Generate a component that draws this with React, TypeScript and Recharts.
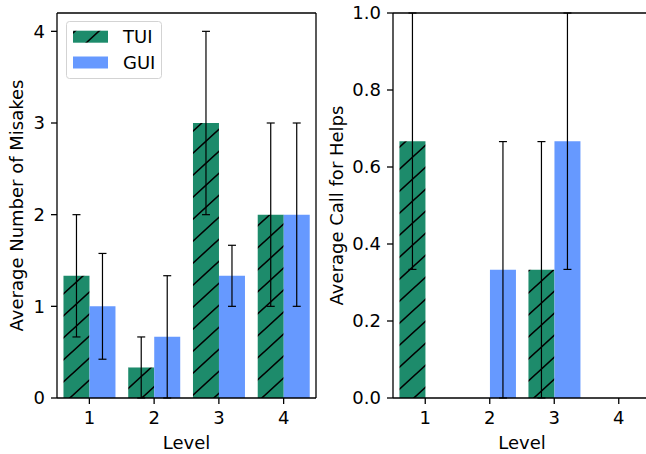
import React from "react";
import { BarChart, Bar, XAxis, YAxis, ErrorBar, ReferenceLine } from "recharts";

const LEVELS = ["1", "2", "3", "4"];

// average mistakes per level
const MISTAKES_TUI = [1.333, 0.333, 3, 2];
const MISTAKES_TUI_ERR = [0.667, 0.333, 1, 1];
const MISTAKES_GUI = [1, 0.667, 1.333, 2];
const MISTAKES_GUI_ERR = [0.577, 0.667, 0.333, 1];

// average call for helps per level
const HELPS_TUI = [0.667, 0, 0.333, 0];
const HELPS_TUI_ERR = [0.333, 0, 0.333, 0];
const HELPS_GUI = [0, 0.333, 0.667, 0];
const HELPS_GUI_ERR = [0, 0.333, 0.333, 0];

const MISTAKE_TICKS = [0, 1, 2, 3, 4];
const HELP_TICKS = [0, 0.2, 0.4, 0.6, 0.8, 1.0];

const SERIES = [
  { key: "tui", name: "TUI", color: "#1d8b6b", hatch: true },
  { key: "gui", name: "GUI", color: "#6699ff", hatch: false },
];

const FONT = "'DejaVu Sans', sans-serif";
const FS = 18;
const INK = "#000";

const mistakesData = LEVELS.map((level, i) => ({
  level,
  tui: MISTAKES_TUI[i],
  tuiErr: MISTAKES_TUI_ERR[i],
  gui: MISTAKES_GUI[i],
  guiErr: MISTAKES_GUI_ERR[i],
}));

const helpsData = LEVELS.map((level, i) => ({
  level,
  tui: HELPS_TUI[i],
  tuiErr: HELPS_TUI_ERR[i],
  gui: HELPS_GUI[i],
  guiErr: HELPS_GUI_ERR[i],
}));

function HatchDef({ id }: { id: string }) {
  return (
    <pattern id={id} patternUnits="userSpaceOnUse" width={24} height={22}>
      <rect width={24} height={22} fill={SERIES[0].color} />
      <path d="M0,22 L24,0 M-6,5.5 L6,-5.5 M18,27.5 L30,16.5" stroke="#000" strokeWidth={1.6} />
    </pattern>
  );
}

const tickStyle = { fontSize: FS, fill: INK, fontFamily: FONT };

function yLabel(text: string) {
  return (props: any) => {
    const vb = props.viewBox || {};
    const x = vb.x + 16;
    const y = vb.y + vb.height / 2;
    return (
      <text x={x} y={y} transform={`rotate(-90 ${x} ${y})`} textAnchor="middle" dominantBaseline="central" fontSize={FS} fontFamily={FONT} fill={INK}>
        {text}
      </text>
    );
  };
}

function xLabel(text: string) {
  return (props: any) => {
    const vb = props.viewBox || {};
    return (
      <text x={vb.x + vb.width / 2} y={vb.y + 51} textAnchor="middle" fontSize={FS} fontFamily={FONT} fill={INK}>
        {text}
      </text>
    );
  };
}

function Panel({
  data,
  width,
  yWidth,
  marginRight,
  domain,
  ticks,
  fmt,
  label,
  hatchId,
}: {
  data: any[];
  width: number;
  yWidth: number;
  marginRight: number;
  domain: [number, number];
  ticks: number[];
  fmt: (v: number) => string;
  label: string;
  hatchId: string;
}) {
  return (
    <BarChart
      width={width}
      height={454}
      data={data}
      margin={{ top: 13, right: marginRight, bottom: 0, left: 0 }}
      barGap={0}
      barCategoryGap="10%"
    >
      <defs>
        <HatchDef id={hatchId} />
      </defs>
      <XAxis
        dataKey="level"
        height={56}
        tick={tickStyle}
        tickSize={6}
        tickMargin={7}
        axisLine={{ stroke: INK, strokeWidth: 1.3 }}
        tickLine={{ stroke: INK, strokeWidth: 1.3 }}
        label={{ content: xLabel("Level") }}
      />
      <YAxis
        type="number"
        domain={domain}
        ticks={ticks}
        interval={0}
        allowDataOverflow
        width={yWidth}
        tick={tickStyle}
        tickFormatter={fmt}
        tickSize={6}
        tickMargin={6}
        axisLine={{ stroke: INK, strokeWidth: 1.3 }}
        tickLine={{ stroke: INK, strokeWidth: 1.3 }}
        label={{ content: yLabel(label) }}
      />
      {SERIES.map((s) => (
        <Bar
          key={s.key}
          dataKey={s.key}
          name={s.name}
          fill={s.hatch ? `url(#${hatchId})` : s.color}
          isAnimationActive={false}
        >
          <ErrorBar dataKey={`${s.key}Err`} width={4} stroke="#000" strokeWidth={1.2} direction="y" />
        </Bar>
      ))}
      {/* top and right spines */}
      <ReferenceLine y={domain[1]} stroke={INK} strokeWidth={1.3} />
      <ReferenceLine x={LEVELS[LEVELS.length - 1]} position="end" stroke={INK} strokeWidth={1.3} />
    </BarChart>
  );
}

function LegendBox() {
  return (
    <svg width={97} height={59} style={{ position: "absolute", left: 66, top: 21 }}>
      <defs>
        <pattern id="hatchLegend" patternUnits="userSpaceOnUse" width={24} height={22} x={-4}>
          <rect width={24} height={22} fill={SERIES[0].color} />
          <path d="M0,22 L24,0 M-6,5.5 L6,-5.5 M18,27.5 L30,16.5" stroke="#000" strokeWidth={1.6} />
        </pattern>
      </defs>
      <rect x={0.5} y={0.5} width={95} height={57} rx={3} fill="rgba(255,255,255,0.8)" stroke="#d3d3d3" />
      {SERIES.map((s, i) => {
        const cy = 15.7 + i * 25.8;
        return (
          <g key={s.key}>
            <rect x={7} y={cy - 6} width={35} height={12} fill={s.hatch ? "url(#hatchLegend)" : s.color} />
            <text x={57} y={cy} dominantBaseline="central" fontSize={FS} fontFamily={FONT} fill={INK}>
              {s.name}
            </text>
          </g>
        );
      })}
    </svg>
  );
}

export default function App() {
  return (
    <div
      style={{
        position: "absolute",
        left: 0,
        top: 0,
        width: 646,
        height: 454,
        overflow: "hidden",
        background: "#fff",
        fontFamily: FONT,
      }}
    >
      <div style={{ position: "absolute", left: 0, top: 0 }}>
        <Panel
          data={mistakesData}
          width={330}
          yWidth={57}
          marginRight={14}
          domain={[0, 4.2]}
          ticks={MISTAKE_TICKS}
          fmt={(v) => String(v)}
          label="Average Number of Misakes"
          hatchId="hatchL"
        />
      </div>
      <div style={{ position: "absolute", left: 320, top: 0 }}>
        <Panel
          data={helpsData}
          width={331}
          yWidth={73}
          marginRight={0}
          domain={[0, 1]}
          ticks={HELP_TICKS}
          fmt={(v) => v.toFixed(1)}
          label="Average Call for Helps"
          hatchId="hatchR"
        />
      </div>
      <LegendBox />
    </div>
  );
}
